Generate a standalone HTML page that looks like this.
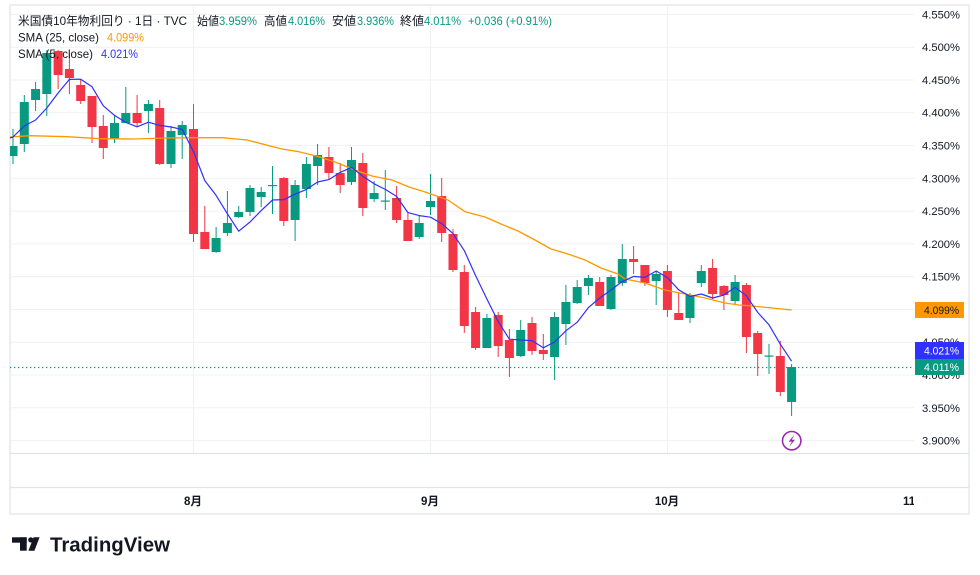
<!DOCTYPE html>
<html><head><meta charset="utf-8"><style>
html,body{margin:0;padding:0;background:#fff;}
svg{display:block;}
text{font-family:"Liberation Sans","Noto Sans CJK JP",sans-serif;}
</style></head><body>
<svg width="980" height="575" viewBox="0 0 980 575" xmlns="http://www.w3.org/2000/svg">
<defs>
<clipPath id="pane"><rect x="10" y="5" width="904" height="448"/></clipPath>
<clipPath id="tax"><rect x="10" y="488" width="904" height="26"/></clipPath>
</defs>
<rect x="0" y="0" width="980" height="575" fill="#fff"/>
<!-- horizontal gridlines -->
<g stroke="#eff1f5" stroke-width="1">
<line x1="10" y1="14.4" x2="914" y2="14.4"/>
<line x1="10" y1="47.2" x2="914" y2="47.2"/>
<line x1="10" y1="80" x2="914" y2="80"/>
<line x1="10" y1="112.7" x2="914" y2="112.7"/>
<line x1="10" y1="145.5" x2="914" y2="145.5"/>
<line x1="10" y1="178.3" x2="914" y2="178.3"/>
<line x1="10" y1="211.1" x2="914" y2="211.1"/>
<line x1="10" y1="243.9" x2="914" y2="243.9"/>
<line x1="10" y1="276.6" x2="914" y2="276.6"/>
<line x1="10" y1="309.4" x2="914" y2="309.4"/>
<line x1="10" y1="342.2" x2="914" y2="342.2"/>
<line x1="10" y1="375" x2="914" y2="375"/>
<line x1="10" y1="407.8" x2="914" y2="407.8"/>
<line x1="10" y1="440.6" x2="914" y2="440.6"/>
<line x1="193.5" y1="5" x2="193.5" y2="453"/>
<line x1="430.5" y1="5" x2="430.5" y2="453"/>
<line x1="667.5" y1="5" x2="667.5" y2="453"/>
</g>
<!-- frame -->
<rect x="10" y="5" width="959" height="509" fill="none" stroke="#eceef2" stroke-width="2"/>
<line x1="10" y1="453.5" x2="969" y2="453.5" stroke="#e0e3eb" stroke-width="1.2"/>
<line x1="10" y1="487.5" x2="969" y2="487.5" stroke="#e0e3eb" stroke-width="1.2"/>

<!-- dotted last price line -->
<line x1="10" y1="367.5" x2="914" y2="367.5" stroke="#089981" stroke-width="1.2" stroke-dasharray="1.3 2.7"/>

<g clip-path="url(#pane)">
<!-- green candles -->
<g fill="#089981">
<rect x="12.5" y="129" width="1" height="35"/><rect x="8.5" y="146" width="9" height="10"/>
<rect x="23.8" y="95" width="1" height="57"/><rect x="19.8" y="102" width="9" height="42"/>
<rect x="35.1" y="82" width="1" height="29"/><rect x="31.1" y="89" width="9" height="11"/>
<rect x="46.3" y="50" width="1" height="66"/><rect x="42.3" y="53" width="9" height="41"/>
<rect x="114" y="115" width="1" height="28"/><rect x="110" y="123" width="9" height="16"/>
<rect x="125.3" y="87" width="1" height="36"/><rect x="121.3" y="113" width="9" height="10"/>
<rect x="147.9" y="100" width="1" height="33"/><rect x="143.9" y="104" width="9" height="7"/>
<rect x="170.5" y="126" width="1" height="42"/><rect x="166.5" y="131" width="9" height="33"/>
<rect x="181.7" y="121" width="1" height="38"/><rect x="177.7" y="125" width="9" height="10"/>
<rect x="215.6" y="227" width="1" height="26"/><rect x="211.6" y="238" width="9" height="14"/>
<rect x="226.9" y="191" width="1" height="45"/><rect x="222.9" y="223" width="9" height="10"/>
<rect x="238.2" y="206" width="1" height="12"/><rect x="234.2" y="212" width="9" height="5"/>
<rect x="249.5" y="185" width="1" height="31"/><rect x="245.5" y="188" width="9" height="24"/>
<rect x="260.7" y="187" width="1" height="20"/><rect x="256.7" y="192" width="9" height="5"/>
<rect x="272" y="166" width="1" height="48"/><rect x="268" y="185" width="9" height="1.2"/>
<rect x="294.6" y="180" width="1" height="61"/><rect x="290.6" y="185" width="9" height="35"/>
<rect x="305.9" y="157" width="1" height="41"/><rect x="301.9" y="164" width="9" height="25"/>
<rect x="317.1" y="144" width="1" height="41"/><rect x="313.1" y="155" width="9" height="11"/>
<rect x="351" y="147" width="1" height="38"/><rect x="347" y="160" width="9" height="22"/>
<rect x="373.6" y="181" width="1" height="21"/><rect x="369.6" y="193" width="9" height="6"/>
<rect x="384.8" y="170" width="1" height="40"/><rect x="380.8" y="200.5" width="9" height="1.2"/>
<rect x="418.7" y="215" width="1" height="24"/><rect x="414.7" y="223" width="9" height="14"/>
<rect x="430" y="174" width="1" height="41"/><rect x="426" y="201" width="9" height="6"/>
<rect x="486.4" y="314" width="1" height="34"/><rect x="482.4" y="318" width="9" height="30"/>
<rect x="520.2" y="320" width="1" height="37"/><rect x="516.2" y="330" width="9" height="26"/>
<rect x="554.1" y="312" width="1" height="68"/><rect x="550.1" y="317" width="9" height="40"/>
<rect x="565.4" y="285" width="1" height="60"/><rect x="561.4" y="302" width="9" height="22"/>
<rect x="576.7" y="280" width="1" height="24"/><rect x="572.7" y="287" width="9" height="16"/>
<rect x="587.9" y="275" width="1" height="20"/><rect x="583.9" y="278" width="9" height="8"/>
<rect x="610.5" y="275" width="1" height="35"/><rect x="606.5" y="277" width="9" height="32"/>
<rect x="621.8" y="244" width="1" height="42"/><rect x="617.8" y="259" width="9" height="24"/>
<rect x="655.7" y="271" width="1" height="34"/><rect x="651.7" y="274" width="9" height="7"/>
<rect x="689.5" y="293" width="1" height="30"/><rect x="685.5" y="295" width="9" height="23"/>
<rect x="700.8" y="265" width="1" height="22"/><rect x="696.8" y="271" width="9" height="12"/>
<rect x="734.6" y="275" width="1" height="29"/><rect x="730.6" y="282" width="9" height="19"/>
<rect x="768.5" y="344" width="1" height="30"/><rect x="764.5" y="355.5" width="9" height="1.2"/>
<rect x="791.1" y="364" width="1" height="52"/><rect x="787.1" y="367" width="9" height="35"/>
</g>
<!-- red candles -->
<g fill="#F23645">
<rect x="57.6" y="50" width="1" height="39"/><rect x="53.6" y="51" width="9" height="24"/>
<rect x="68.9" y="53" width="1" height="41"/><rect x="64.9" y="69" width="9" height="9"/>
<rect x="80.2" y="79" width="1" height="25"/><rect x="76.2" y="85" width="9" height="16"/>
<rect x="91.5" y="96" width="1" height="47"/><rect x="87.5" y="96" width="9" height="31"/>
<rect x="102.8" y="115" width="1" height="44"/><rect x="98.8" y="126" width="9" height="22"/>
<rect x="136.6" y="95" width="1" height="32"/><rect x="132.6" y="113" width="9" height="10"/>
<rect x="159.2" y="100" width="1" height="65"/><rect x="155.2" y="108" width="9" height="56"/>
<rect x="193" y="104" width="1" height="138"/><rect x="189" y="129" width="9" height="105"/>
<rect x="204.3" y="206" width="1" height="43"/><rect x="200.3" y="232" width="9" height="17"/>
<rect x="283.3" y="177" width="1" height="49"/><rect x="279.3" y="178" width="9" height="43"/>
<rect x="328.4" y="147" width="1" height="32"/><rect x="324.4" y="157" width="9" height="16"/>
<rect x="339.7" y="163" width="1" height="30"/><rect x="335.7" y="173" width="9" height="12"/>
<rect x="362.3" y="153" width="1" height="63"/><rect x="358.3" y="163" width="9" height="45"/>
<rect x="396.1" y="186" width="1" height="37"/><rect x="392.1" y="198" width="9" height="22"/>
<rect x="407.4" y="212" width="1" height="29"/><rect x="403.4" y="220" width="9" height="21"/>
<rect x="441.2" y="178" width="1" height="64"/><rect x="437.2" y="196" width="9" height="37"/>
<rect x="452.5" y="229" width="1" height="43"/><rect x="448.5" y="234" width="9" height="36"/>
<rect x="463.8" y="265" width="1" height="68"/><rect x="459.8" y="272" width="9" height="54"/>
<rect x="475.1" y="307" width="1" height="43"/><rect x="471.1" y="312" width="9" height="36"/>
<rect x="497.7" y="312" width="1" height="45"/><rect x="493.7" y="315" width="9" height="31"/>
<rect x="508.9" y="329" width="1" height="48"/><rect x="504.9" y="340" width="9" height="18"/>
<rect x="531.5" y="317" width="1" height="38"/><rect x="527.5" y="323" width="9" height="28"/>
<rect x="542.8" y="334" width="1" height="26"/><rect x="538.8" y="350" width="9" height="4"/>
<rect x="599.2" y="277" width="1" height="29"/><rect x="595.2" y="282" width="9" height="24"/>
<rect x="633.1" y="246" width="1" height="28"/><rect x="629.1" y="259" width="9" height="3"/>
<rect x="644.4" y="265" width="1" height="21"/><rect x="640.4" y="265" width="9" height="18"/>
<rect x="666.9" y="265" width="1" height="52"/><rect x="662.9" y="271" width="9" height="39"/>
<rect x="678.2" y="293" width="1" height="27"/><rect x="674.2" y="313" width="9" height="7"/>
<rect x="712.1" y="259" width="1" height="40"/><rect x="708.1" y="268" width="9" height="26"/>
<rect x="723.4" y="285" width="1" height="25"/><rect x="719.4" y="286" width="9" height="9"/>
<rect x="745.9" y="283" width="1" height="70"/><rect x="741.9" y="285" width="9" height="52"/>
<rect x="757.2" y="331" width="1" height="45"/><rect x="753.2" y="333" width="9" height="21"/>
<rect x="779.8" y="341" width="1" height="55"/><rect x="775.8" y="356" width="9" height="36"/>
</g>
<!-- SMA 25 -->
<polyline fill="none" stroke="#FF9800" stroke-width="1.3" stroke-linejoin="round" points="10,137 30,135.7 67,136.7 100,138.7 133,139 167,138 200,137.7 222,137.7 247,140 282,149 299,151.7 319,156.7 335,162 355,170 372,176 392,180 409,187 422,191 431,194 448,200 465,211.7 485,217 501,224 518,231 535,240 551,249 568,254 585,260 601,268 618,274 625,279 645,283 665,290 685,294 705,298 725,303 739,305 752,306 772,308 791.6,310"/>
<!-- SMA 5 -->
<polyline fill="none" stroke="#3030ff" stroke-width="1.2" stroke-linejoin="round" points="10,138 13,137 24.3,126 35.6,120 46.8,108 58.1,93 69.4,79.4 80.7,79.2 92,86.8 103.3,105.8 114.5,115.4 125.8,122.4 137.1,126.8 148.4,122.2 159.7,125.4 171,127 182.2,129.4 193.5,151.6 204.8,180.6 216.1,195.4 227.4,213.8 238.7,231.2 250,222 261.2,210.6 272.5,200 283.8,199.6 295.1,194.2 306.4,189.4 317.6,182 328.9,179.6 340.2,172.4 351.5,167.4 362.8,176.2 374.1,183.8 385.3,189.4 396.6,196.4 407.9,212.6 419.2,215.6 430.5,217.2 441.7,223.6 453,233.6 464.3,250.6 475.6,275.6 486.9,299 498.2,321.6 509.4,339.2 520.7,340 532,340.6 543.3,347.8 554.6,342 565.9,330.8 577.2,322.2 588.4,307.6 599.7,298 611,290 622.3,281.4 633.6,276.4 644.9,277.4 656.2,271 667.4,277.6 678.7,289.8 690,296.4 701.3,294 712.6,298 723.9,295 735.1,287.4 746.4,295.8 757.7,312.4 769,324.8 780.3,344.2 791.6,361.2"/>
</g>

<!-- lightning icon -->
<circle cx="791.7" cy="440.7" r="9.2" fill="#fff" stroke="#9C27B0" stroke-width="1.6"/>
<polygon points="794.3,434.8 788.6,441.6 791.9,441.6 789.3,446.8 795,439.8 791.8,439.8" fill="#9C27B0"/>

<!-- legend -->
<g font-size="12" fill="#131722">
<text x="18" y="25" textLength="169" lengthAdjust="spacingAndGlyphs">米国債10年物利回り · 1日 · TVC</text>
<text x="197" y="25" textLength="22" lengthAdjust="spacingAndGlyphs">始値</text>
<text x="219" y="25" textLength="38" lengthAdjust="spacingAndGlyphs" fill="#089981">3.959%</text>
<text x="264" y="25" textLength="23" lengthAdjust="spacingAndGlyphs">高値</text>
<text x="288" y="25" textLength="37" lengthAdjust="spacingAndGlyphs" fill="#089981">4.016%</text>
<text x="332" y="25" textLength="24" lengthAdjust="spacingAndGlyphs">安値</text>
<text x="357" y="25" textLength="37" lengthAdjust="spacingAndGlyphs" fill="#089981">3.936%</text>
<text x="400" y="25" textLength="24" lengthAdjust="spacingAndGlyphs">終値</text>
<text x="424" y="25" textLength="37" lengthAdjust="spacingAndGlyphs" fill="#089981">4.011%</text>
<text x="468" y="25" textLength="84" lengthAdjust="spacingAndGlyphs" fill="#089981">+0.036 (+0.91%)</text>
<text x="18" y="41.5" textLength="81" lengthAdjust="spacingAndGlyphs">SMA (25, close)</text>
<text x="107" y="41.5" textLength="37" lengthAdjust="spacingAndGlyphs" fill="#FF9800">4.099%</text>
<text x="18" y="58" textLength="75" lengthAdjust="spacingAndGlyphs">SMA (5, close)</text>
<text x="101" y="58" textLength="37" lengthAdjust="spacingAndGlyphs" fill="#3030ff">4.021%</text>
</g>

<!-- price axis labels -->
<g font-size="11" fill="#131722">
<text x="922" y="18.4" textLength="38" lengthAdjust="spacingAndGlyphs">4.550%</text>
<text x="922" y="51.2" textLength="38" lengthAdjust="spacingAndGlyphs">4.500%</text>
<text x="922" y="84" textLength="38" lengthAdjust="spacingAndGlyphs">4.450%</text>
<text x="922" y="116.7" textLength="38" lengthAdjust="spacingAndGlyphs">4.400%</text>
<text x="922" y="149.5" textLength="38" lengthAdjust="spacingAndGlyphs">4.350%</text>
<text x="922" y="182.3" textLength="38" lengthAdjust="spacingAndGlyphs">4.300%</text>
<text x="922" y="215.1" textLength="38" lengthAdjust="spacingAndGlyphs">4.250%</text>
<text x="922" y="247.9" textLength="38" lengthAdjust="spacingAndGlyphs">4.200%</text>
<text x="922" y="280.6" textLength="38" lengthAdjust="spacingAndGlyphs">4.150%</text>
<text x="922" y="313.4" textLength="38" lengthAdjust="spacingAndGlyphs">4.100%</text>
<text x="922" y="346.2" textLength="38" lengthAdjust="spacingAndGlyphs">4.050%</text>
<text x="922" y="379" textLength="38" lengthAdjust="spacingAndGlyphs">4.000%</text>
<text x="922" y="411.8" textLength="38" lengthAdjust="spacingAndGlyphs">3.950%</text>
<text x="922" y="444.6" textLength="38" lengthAdjust="spacingAndGlyphs">3.900%</text>
</g>
<!-- price boxes -->
<rect x="915" y="302" width="49" height="16" fill="#FF9800"/>
<text x="924" y="314" font-size="11" fill="#131722" textLength="35" lengthAdjust="spacingAndGlyphs">4.099%</text>
<rect x="915" y="342" width="49" height="17" fill="#3030ff"/>
<text x="924" y="354.5" font-size="11" fill="#fff" textLength="35" lengthAdjust="spacingAndGlyphs">4.021%</text>
<rect x="915" y="359" width="49" height="16" fill="#089981"/>
<text x="924" y="371" font-size="11" fill="#fff" textLength="35" lengthAdjust="spacingAndGlyphs">4.011%</text>

<!-- time axis -->
<g font-size="11.5" font-weight="700" fill="#131722">
<text x="193" y="505" text-anchor="middle">8月</text>
<text x="430" y="505" text-anchor="middle">9月</text>
<text x="667" y="505" text-anchor="middle">10月</text>
<text x="903" y="505" clip-path="url(#tax)">11月</text>
</g>

<!-- TradingView logo -->
<g fill="#131722">
<rect x="12" y="537.3" width="14.7" height="5.4"/>
<rect x="20" y="537.3" width="6.7" height="13.4"/>
<circle cx="30.8" cy="539.9" r="2.6"/>
<polygon points="28.4,550.7 34.4,550.7 39.6,537.3 33.6,537.3"/>
<text x="50" y="551.5" font-size="20" font-weight="700" textLength="120" lengthAdjust="spacingAndGlyphs">TradingView</text>
</g>
</svg>
</body></html>
